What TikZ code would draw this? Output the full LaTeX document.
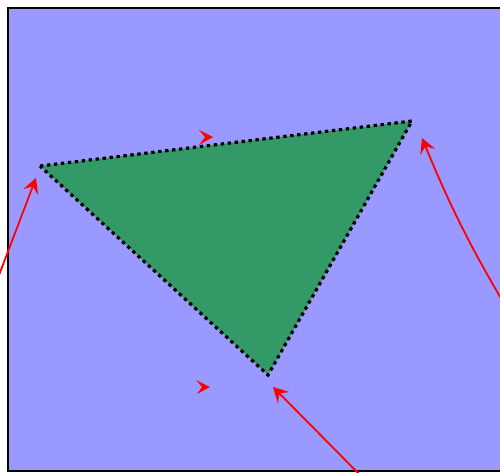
\documentclass[tikz,border=0pt]{standalone}
\usetikzlibrary{arrows.meta}
\definecolor{bgblue}{HTML}{9999FF}
\definecolor{trigreen}{HTML}{339966}
\tikzset{
  redarrow/.style={draw=red, line width=1.8pt, -{Stealth[length=15pt, width=16pt, inset=6pt]}},
  tribord/.style={draw=black, line width=3.2pt, line cap=butt, dash pattern=on 3.4pt off 3.6pt},
}
\begin{document}
\begin{tikzpicture}[x=1pt,y=1pt]
\useasboundingbox (0,0) rectangle (500,472);
\clip (0,0) rectangle (500,472);
\fill[bgblue] (8,1) rectangle (520,464);
\draw[black, line width=2pt] (520,1) -- (8,1) -- (8,464) -- (520,464);
% triangle
\coordinate (A) at (40,306);
\coordinate (B) at (412,351);
\coordinate (C) at (268,97);
\fill[trigreen] (A) -- (B) -- (C) -- cycle;
\draw[tribord] (A) -- (B) -- (C) -- cycle;
% connectors
\coordinate (l0) at (-12,168);
\coordinate (l1) at (36,294);
\coordinate (r0) at (506,165);
\coordinate (r1) at (422,334);
\coordinate (b0) at (368,-11);
\coordinate (b1) at (273,85);
\draw[redarrow] (l0) -- (l1);
\draw[redarrow] (r0) to[bend left=4] (r1);
\draw[redarrow] (b0) -- (b1);
% lone arrowheads
\fill[red] (213,335) -- (199,342) -- (205,335) -- (199,327) -- cycle;
\fill[red] (210,85) -- (196,92) -- (202,85) -- (197,78) -- cycle;
\end{tikzpicture}
\end{document}
